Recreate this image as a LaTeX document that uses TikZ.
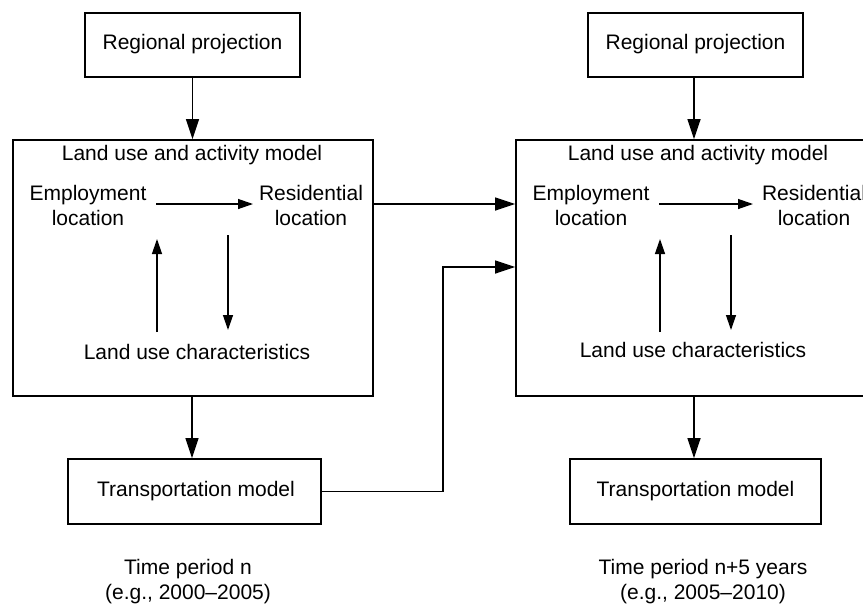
\documentclass[tikz,border=0pt]{standalone}
\usepackage{fontspec}
\setmainfont{Liberation Sans}
\usetikzlibrary{arrows.meta,calc}
\begin{document}
\begin{tikzpicture}[x=1pt,y=-1pt,
  box/.style={draw, line width=1.6pt, inner sep=0pt},
  lbl/.style={inner sep=0pt, align=center, font=\fontsize{21}{25}\selectfont},
  arr/.style={line width=1.3pt, -{Triangle[length=20pt,width=13pt]}},
  iarr/.style={line width=1.3pt, -{Triangle[length=15pt,width=10pt]}}]
\useasboundingbox (0,0) rectangle (863,606);
\clip (0,0) rectangle (863,606);
\fill[white] (0,0) rectangle (863,606);

% ---------- left column ----------
\node[box, minimum width=215, minimum height=64] (rp1) at (192.5,45) {};
\node[lbl] (rpt1) at (192.5,44) {Regional projection};
\node[box, minimum width=360, minimum height=256] (lu1) at (193,268) {};
\node[lbl] (ti1) at (192,155) {Land use and activity model};
\node[lbl] (emp1) at (88,205.5) {Employment\\location};
\node[lbl] (res1) at (311,205.5) {Residential\\location};
\node[lbl] (luc1) at (197,352) {Land use characteristics};
\node[box, minimum width=253, minimum height=65] (tm1) at (194.5,491.5) {};
\node[lbl] (tmt1) at (196,491.5) {Transportation model};
\node[lbl] (tp1) at (188,582) {Time period n\\(e.g., 2000--2005)};

\coordinate (ha1) at (156,204); \coordinate (hb1) at (253,204);
\coordinate (ua1) at (157,332); \coordinate (ub1) at (157,239);
\coordinate (da1) at (228,235); \coordinate (db1) at (228,330);
\draw[iarr] (ha1) -- (hb1);
\draw[iarr] (ua1) -- (ub1);
\draw[iarr] (da1) -- (db1);
\draw[arr] (rp1.south) -- (rp1.south |- lu1.north);
\draw[arr] (lu1.south -| 192,0) -- (tm1.north -| 192,0);

% ---------- right column ----------
\node[box, minimum width=215, minimum height=64] (rp2) at (695.5,45) {};
\node[lbl] (rpt2) at (695.5,44) {Regional projection};
\node[box, minimum width=360, minimum height=256] (lu2) at (696,268) {};
\node[lbl] (ti2) at (698,155) {Land use and activity model};
\node[lbl] (emp2) at (591,205.5) {Employment\\location};
\node[lbl] (res2) at (814,205.5) {Residential\\location};
\node[lbl] (luc2) at (693,350) {Land use characteristics};
\node[box, minimum width=251, minimum height=65] (tm2) at (695.5,491.5) {};
\node[lbl] (tmt2) at (695.5,491.5) {Transportation model};
\node[lbl] (tp2) at (703,582) {Time period n+5 years\\(e.g., 2005--2010)};

\coordinate (ha2) at (659,204); \coordinate (hb2) at (753,204);
\coordinate (ua2) at (660,332); \coordinate (ub2) at (660,239);
\coordinate (da2) at (731,235); \coordinate (db2) at (731,330);
\draw[iarr] (ha2) -- (hb2);
\draw[iarr] (ua2) -- (ub2);
\draw[iarr] (da2) -- (db2);
\draw[arr] (rp2.south -| 694,0) -- (lu2.north -| 694,0);
\draw[arr] (lu2.south -| 694,0) -- (tm2.north -| 694,0);

% ---------- links between periods ----------
\coordinate (bend) at (443,267);
\draw[arr] (lu1.east |- ha1) -- (lu2.west |- ha1);
\draw[arr] (tm1.east) -| (bend) -- (lu2.west |- bend);
\end{tikzpicture}
\end{document}
